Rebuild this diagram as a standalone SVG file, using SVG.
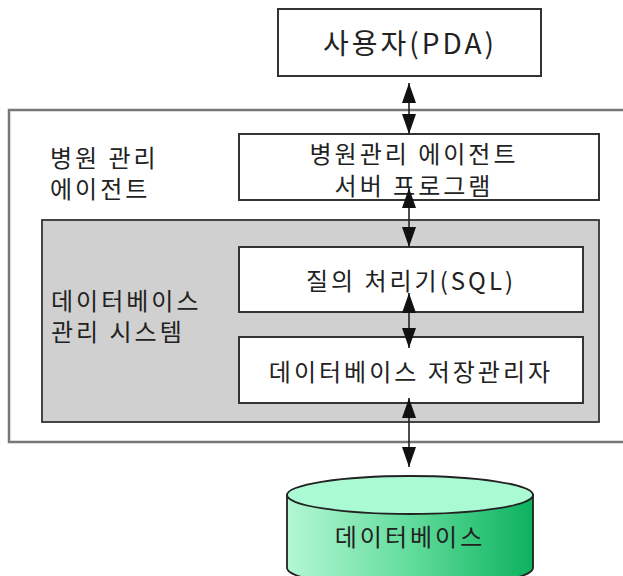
<svg xmlns="http://www.w3.org/2000/svg" width="623" height="576" viewBox="0 0 623 576">
  <style>
    .txt { font-family: "Noto Sans CJK KR", "Liberation Sans", sans-serif; fill: #222; font-size: 24px; letter-spacing: 3px; }
    .mid { text-anchor: middle; dominant-baseline: central; }
    .box { fill: #ffffff; stroke: #333; stroke-width: 2; }
    .link { stroke: #222; stroke-width: 1.6; fill: none; marker-start: url(#head); marker-end: url(#head); }
  </style>
  <defs>
    <marker id="head" markerUnits="userSpaceOnUse" markerWidth="20" markerHeight="14" refX="20" refY="7" orient="auto-start-reverse">
      <path d="M0,0 L20,7 L0,14 z" fill="#111"/>
    </marker>
    <linearGradient id="cylSide" x1="0" y1="0" x2="1" y2="0">
      <stop offset="0" stop-color="#b4f7d4"/>
      <stop offset="0.5" stop-color="#62dc9c"/>
      <stop offset="1" stop-color="#0cb25e"/>
    </linearGradient>
  </defs>

  <!-- user device -->
  <g id="user">
    <rect class="box" x="278" y="9" width="263" height="67"/>
    <text class="txt mid" x="410" y="42" style="font-size:28px">사용자(PDA)</text>
  </g>

  <!-- hospital management agent container -->
  <g id="agent">
    <rect x="9" y="110" width="640" height="332" fill="#ffffff" stroke="#777" stroke-width="2.5"/>
    <text class="txt" x="50" y="167">병원 관리</text>
    <text class="txt" x="50" y="198">에이전트</text>
  </g>

  <g id="server">
    <rect class="box" x="239" y="134" width="360" height="66"/>
    <text class="txt mid" x="414" y="152">병원관리 에이전트</text>
    <text class="txt mid" x="414" y="184">서버 프로그램</text>
  </g>

  <!-- database management system -->
  <g id="dbms">
    <rect x="42" y="220" width="557" height="202" fill="#d0d0d0" stroke="#333" stroke-width="1.8"/>
    <text class="txt" x="51" y="310">데이터베이스</text>
    <text class="txt" x="51" y="341">관리 시스템</text>
  </g>

  <g id="query">
    <rect class="box" x="239" y="247" width="344" height="65"/>
    <text class="txt mid" x="411" y="279">질의 처리기(SQL)</text>
  </g>

  <g id="storage">
    <rect class="box" x="239" y="337" width="344" height="66"/>
    <text class="txt mid" x="411" y="370">데이터베이스 저장관리자</text>
  </g>

  <!-- database cylinder -->
  <g id="database">
    <path d="M287,495 L287,568 A123,19 0 0 0 533,568 L533,495 Z" fill="url(#cylSide)" stroke="#222" stroke-width="1.8"/>
    <ellipse cx="410" cy="495" rx="123" ry="19" fill="#aafbd4" stroke="#222" stroke-width="1.8"/>
    <text class="txt mid" x="410" y="535">데이터베이스</text>
  </g>

  <!-- connectors -->
  <g id="connectors">
    <line class="link" x1="409" y1="83" x2="409" y2="134"/>
    <line class="link" x1="409" y1="188" x2="409" y2="247"/>
    <line class="link" x1="409" y1="293" x2="409" y2="348"/>
    <line class="link" x1="409" y1="398" x2="409" y2="467"/>
  </g>
</svg>
